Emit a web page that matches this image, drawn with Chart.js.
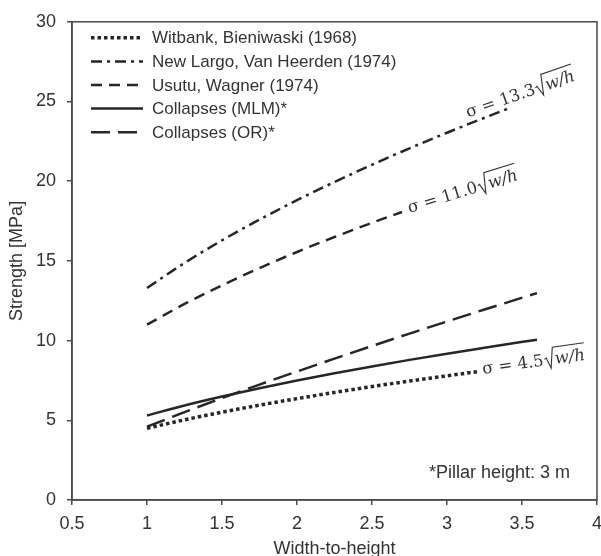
<!DOCTYPE html>
<html>
<head>
<meta charset="utf-8">
<script src="https://cdn.jsdelivr.net/npm/chart.js@4/dist/chart.umd.min.js"></script>
<style>
  html, body { margin: 0; padding: 0; background: #fff; }
  #c { display: block; }
</style>
</head>
<body>
<canvas id="c" width="601" height="556"></canvas>
<script>
// series
var witX = [1, 1.25, 1.5, 1.75, 2, 2.25, 2.5, 2.75, 3, 3.2];
var witY = [4.5, 5.03, 5.51, 5.95, 6.36, 6.75, 7.12, 7.46, 7.79, 8.05];

var largoX = [1, 1.25, 1.5, 1.75, 2, 2.25, 2.5, 2.75, 3, 3.25, 3.42];
var largoY = [13.3, 14.87, 16.29, 17.59, 18.81, 19.95, 21.03, 22.06, 23.04, 23.98, 24.6];

var usutuX = [1, 1.25, 1.5, 1.75, 2, 2.25, 2.5, 2.7];
var usutuY = [11, 12.3, 13.47, 14.55, 15.56, 16.5, 17.39, 18.07];

var mlmX = [1, 1.25, 1.5, 1.75, 2, 2.25, 2.5, 2.75, 3, 3.25, 3.6];
var mlmY = [5.3, 5.93, 6.49, 7.01, 7.5, 7.95, 8.38, 8.79, 9.18, 9.55, 10.06];

var orX = [1, 1.25, 1.5, 1.75, 2, 2.25, 2.5, 2.75, 3, 3.25, 3.6];
var orY = [4.6, 5.51, 6.39, 7.24, 8.06, 8.87, 9.66, 10.44, 11.2, 11.95, 12.98];

var seriesNames = ['Witbank, Bieniwaski (1968)', 'New Largo, Van Heerden (1974)',
                   'Usutu, Wagner (1974)', 'Collapses (MLM)*', 'Collapses (OR)*'];

// formula labels on the curves
var coefLabels = ['13.3', '11.0', '4.5'];
var coefAt = [[3.14, 24.0, -19], [2.75, 18.0, -17], [3.24, 7.9, -8]];

var note = '*Pillar height: 3 m';

function pts(xs, ys) {
  return xs.map(function (v, i) { return {x: v, y: ys[i]}; });
}

var ink = '#262626';
var txt = '#333333';
var axisCol = '#4a4a4a';

var overlay = {
  id: 'overlay',
  afterDraw: function (chart) {
    var ctx = chart.ctx, a = chart.chartArea;
    var sx = chart.scales.x, sy = chart.scales.y;

    // frame round the plot
    ctx.save();
    ctx.strokeStyle = axisCol;
    ctx.lineWidth = 1.5;
    ctx.strokeRect(a.left, a.top, a.right - a.left, a.bottom - a.top);
    ctx.restore();

    // legend inside the plot
    chart.data.datasets.forEach(function (ds, i) {
      var yy = a.top + 16 + i * 23.6;
      ctx.save();
      ctx.strokeStyle = ds.borderColor;
      ctx.lineWidth = ds.borderWidth;
      ctx.setLineDash(ds.borderDash || []);
      ctx.beginPath();
      ctx.moveTo(a.left + 19, yy);
      ctx.lineTo(a.left + 71, yy);
      ctx.stroke();
      ctx.restore();
      ctx.save();
      ctx.fillStyle = txt;
      ctx.font = '17px "Liberation Sans", Arial, sans-serif';
      ctx.textBaseline = 'middle';
      ctx.fillText(ds.label, a.left + 80, yy + 1);
      ctx.restore();
    });

    // sigma formulas
    coefLabels.forEach(function (c, i) {
      var px = sx.getPixelForValue(coefAt[i][0]);
      var py = sy.getPixelForValue(coefAt[i][1]);
      ctx.save();
      ctx.translate(px, py);
      ctx.rotate(coefAt[i][2] * Math.PI / 180);
      ctx.fillStyle = txt;
      ctx.strokeStyle = txt;
      ctx.font = '16.5px "DejaVu Serif", serif';
      ctx.textBaseline = 'alphabetic';
      var s = '\u03c3 = ' + c;
      ctx.fillText(s, 0, 0);
      var w = ctx.measureText(s).width;
      ctx.font = 'italic 16.5px "DejaVu Serif", serif';
      var w2 = ctx.measureText('w/h').width;
      ctx.lineWidth = 1.1;
      ctx.beginPath();
      ctx.moveTo(w + 1, -6);
      ctx.lineTo(w + 3, -7);
      ctx.lineTo(w + 6.5, 3.5);
      ctx.lineTo(w + 10.5, -17);
      ctx.lineTo(w + 12 + w2, -17);
      ctx.stroke();
      ctx.fillText('w/h', w + 11.5, 0);
      ctx.restore();
    });

    // note bottom right
    ctx.save();
    ctx.fillStyle = txt;
    ctx.font = '18px "Liberation Sans", Arial, sans-serif';
    ctx.textAlign = 'right';
    ctx.textBaseline = 'middle';
    ctx.fillText(note, a.right - 27, a.bottom - 27);
    ctx.restore();
  }
};

new Chart(document.getElementById('c'), {
  type: 'line',
  data: {
    datasets: [
      {label: seriesNames[0], data: pts(witX, witY), borderColor: ink, borderWidth: 3.5, borderDash: [3.5, 3], borderCapStyle: 'butt'},
      {label: seriesNames[1], data: pts(largoX, largoY), borderColor: ink, borderWidth: 2.5, borderDash: [11, 5, 3, 5]},
      {label: seriesNames[2], data: pts(usutuX, usutuY), borderColor: ink, borderWidth: 2.5, borderDash: [11, 7]},
      {label: seriesNames[3], data: pts(mlmX, mlmY), borderColor: ink, borderWidth: 2.5},
      {label: seriesNames[4], data: pts(orX, orY), borderColor: ink, borderWidth: 2.5, borderDash: [19, 8]}
    ]
  },
  options: {
    responsive: false,
    animation: false,
    layout: {padding: {top: 21, right: 4, left: 0, bottom: 0}},
    elements: {
      point: {radius: 0},
      line: {cubicInterpolationMode: 'monotone', fill: false}
    },
    plugins: {legend: {display: false}, tooltip: {enabled: false}},
    scales: {
      x: {
        type: 'linear', min: 0.5, max: 4,
        ticks: {stepSize: 0.5, color: txt, font: {size: 18, family: '"Liberation Sans", Arial'}, padding: 8, maxRotation: 0,
                callback: function (v) { return String(v); }},
        grid: {drawOnChartArea: false, drawTicks: true, tickLength: 5, color: axisCol, lineWidth: 1.5},
        border: {color: axisCol, width: 1.5},
        title: {display: true, text: 'Width-to-height', color: txt, font: {size: 18, family: '"Liberation Sans", Arial'}, padding: {top: 0, bottom: -4}},
        afterFit: function (s) { s.height = 56; s.paddingLeft = 0; s.paddingRight = 0; }
      },
      y: {
        min: 0, max: 30,
        ticks: {stepSize: 5, color: txt, font: {size: 18, family: '"Liberation Sans", Arial'}, padding: 11},
        grid: {drawOnChartArea: false, drawTicks: true, tickLength: 5, color: axisCol, lineWidth: 1.5},
        border: {color: axisCol, width: 1.5},
        title: {display: true, text: 'Strength [MPa]', color: txt, font: {size: 18, family: '"Liberation Sans", Arial'}, padding: {top: 6, bottom: 0}},
        afterFit: function (s) { s.width = 72; }
      }
    }
  },
  plugins: [overlay]
});
</script>
</body>
</html>
